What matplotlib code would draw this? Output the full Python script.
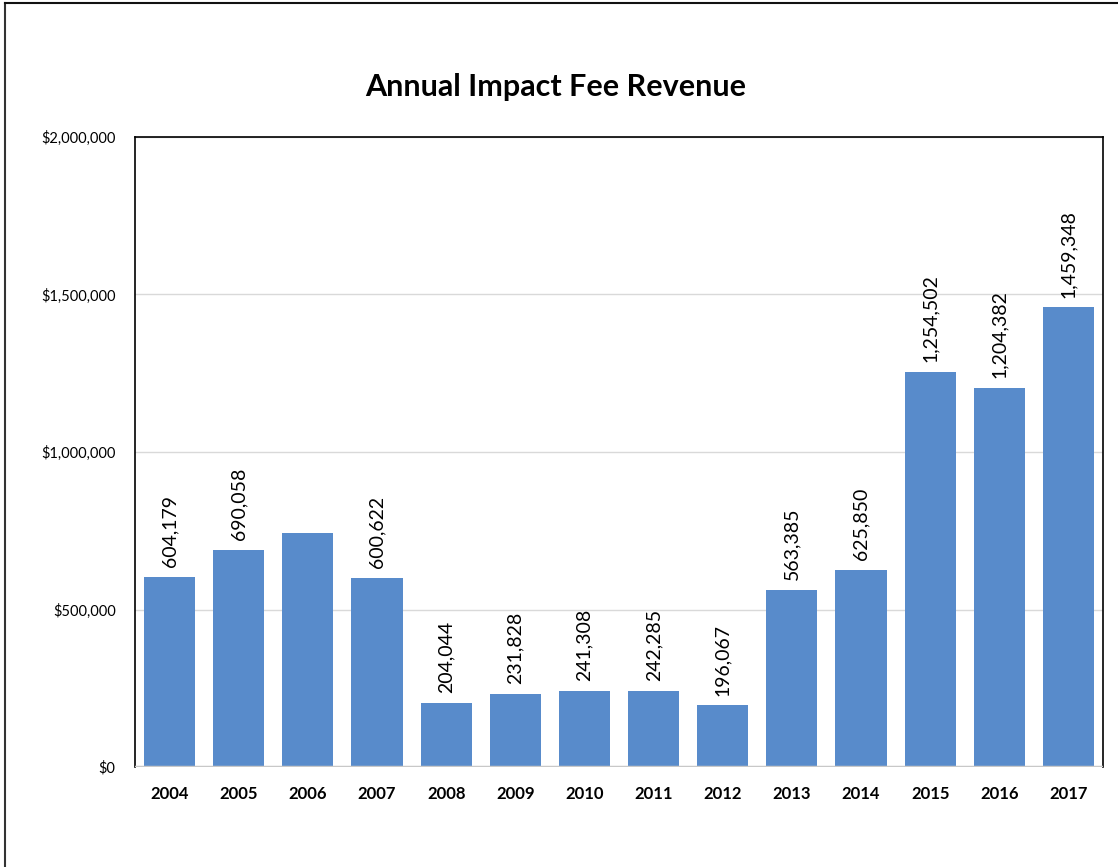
import matplotlib
matplotlib.use('Agg')
import matplotlib.pyplot as plt
from matplotlib.lines import Line2D
from matplotlib.ticker import FuncFormatter

# values (2006 has no label in the original)
years = ['2004', '2005', '2006', '2007', '2008', '2009', '2010',
         '2011', '2012', '2013', '2014', '2015', '2016', '2017']
revenue = [604179, 690058, 744000, 600622, 204044, 231828, 241308,
           242285, 196067, 563385, 625850, 1254502, 1204382, 1459348]
show_label = [True, True, False, True, True, True, True,
              True, True, True, True, True, True, True]
y_ticks = [0, 500000, 1000000, 1500000, 2000000]

plt.rcParams['font.family'] = ['Lato', 'DejaVu Sans']

fig = plt.figure(figsize=(11.18, 8.67), dpi=100)
ax = fig.add_axes([0.1208, 0.1153, 0.8658, 0.7267])

x = range(len(years))
bars = ax.bar(x, revenue, width=0.74, color='#588BCB', zorder=2)

# value labels, rotated like the original
for i, (val, show) in enumerate(zip(revenue, show_label)):
    if show:
        ax.annotate(f'{val:,}', xy=(i, val), xytext=(0, 7),
                    textcoords='offset points', rotation=90,
                    ha='center', va='bottom', fontsize=14, color='black')

ax.set_xlim(-0.5, len(years) - 0.5)
ax.set_ylim(0, 2000000)
ax.set_yticks(y_ticks)
ax.yaxis.set_major_formatter(FuncFormatter(lambda v, p: f'${v:,.0f}'))
ax.set_xticks(list(x))
ax.set_xticklabels(years, fontsize=12, fontweight='bold')
ax.tick_params(axis='y', labelsize=10.5, length=0, pad=14)
ax.tick_params(axis='x', length=0, pad=14)

ax.grid(True, axis='y', color='#D9D9D9', linewidth=1, zorder=0)
ax.axhline(0, color='#C8C8C8', linewidth=2.5, zorder=3)

for side in ['left', 'top', 'right']:
    ax.spines[side].set_color('black')
    ax.spines[side].set_linewidth(1.2)
ax.spines['bottom'].set_visible(False)

fig.text(0.497, 0.9, 'Annual Impact Fee Revenue', ha='center', va='center',
         fontsize=22, fontweight='bold')

# outer frame (left and top edges only show in the original)
fig.add_artist(Line2D([0.0045, 0.0045], [0, 0.9965], color='#333333', linewidth=1.5))
fig.add_artist(Line2D([0.0045, 1], [0.9965, 0.9965], color='#111111', linewidth=1.5))

fig.savefig('out.png', dpi=100)
